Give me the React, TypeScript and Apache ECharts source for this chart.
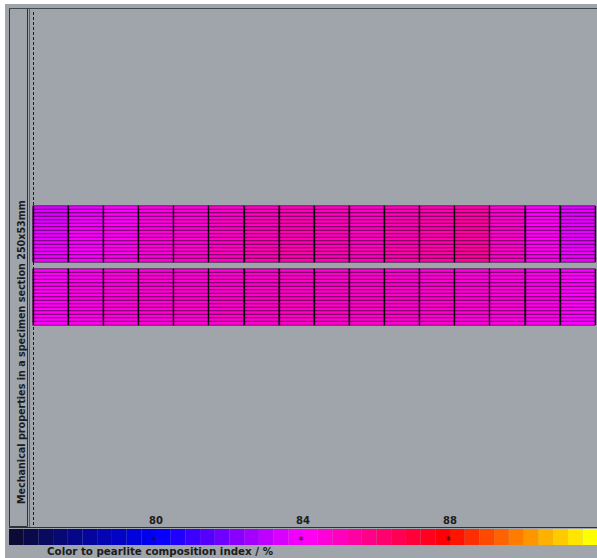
import React, { useEffect, useRef } from "react";
import * as echarts from "echarts";

const COLUMNS = ["1","2","3","4","5","6","7","8","9","10","11","12","13","14","15","16"];
const ROWS = ["r1","r2","r3","r4","r5","r6","r7","r8","r9","r10","r11","r12","r13","r14","r15","r16"];

// Upper band of the specimen section (rows top -> bottom, columns left -> right)
const TOP_BAND: number[][] = [
  [83.4,83.7,84.0,84.4,84.5,84.7,84.9,85.0,84.9,84.8,85.0,85.1,85.3,84.6,84.0,83.5],
  [83.5,83.8,84.0,84.3,84.6,84.8,85.0,85.1,85.0,84.9,85.1,85.2,85.4,84.7,84.1,83.6],
  [83.4,83.7,84.1,84.5,84.5,84.7,84.9,85.0,85.0,84.8,85.0,85.1,85.3,84.6,84.0,83.5],
  [83.6,83.9,84.1,84.4,84.6,84.8,85.0,85.1,84.9,84.9,85.1,85.2,85.4,84.7,84.1,83.7],
  [83.5,83.8,84.0,84.5,84.7,84.9,85.1,85.2,85.1,85.0,85.2,85.3,85.5,84.8,84.2,83.6],
  [83.6,83.9,84.2,84.4,84.6,84.8,85.0,85.1,85.0,84.9,85.1,85.2,85.4,84.7,84.1,83.6],
  [83.7,84.0,84.1,84.5,84.7,84.9,85.1,85.2,85.1,85.0,85.2,85.3,85.5,84.8,84.2,83.7],
  [83.6,83.9,84.2,84.6,84.6,84.8,85.0,85.1,85.0,84.9,85.1,85.2,85.4,84.7,84.1,83.6],
  [83.7,84.0,84.2,84.5,84.7,84.9,85.1,85.2,85.1,85.0,85.2,85.3,85.5,84.8,84.2,83.7],
  [83.6,83.9,84.1,84.6,84.6,84.8,85.0,85.1,85.0,84.9,85.1,85.2,85.4,84.7,84.1,83.6],
  [83.8,84.0,84.3,84.5,84.7,84.9,85.1,85.2,85.1,85.0,85.2,85.3,85.5,84.8,84.2,83.7],
  [83.7,83.9,84.2,84.6,84.6,84.8,85.0,85.1,85.0,84.9,85.1,85.2,85.4,84.7,84.1,83.6],
  [83.8,84.0,84.3,84.5,84.8,85.0,85.2,85.3,85.2,85.1,85.3,85.4,85.6,84.9,84.3,83.8],
  [83.7,83.9,84.2,84.6,84.7,84.9,85.1,85.2,85.1,85.0,85.2,85.3,85.5,84.8,84.2,83.7],
  [83.8,84.0,84.3,84.5,84.8,85.0,85.2,85.3,85.2,85.1,85.3,85.4,85.6,84.9,84.3,83.8],
  [83.7,83.9,84.2,84.6,84.7,84.9,85.1,85.2,85.1,85.0,85.2,85.3,85.5,84.8,84.2,83.7],
];

// Lower band of the specimen section
const BOTTOM_BAND: number[][] = [
  [84.0,84.2,84.4,84.5,84.6,84.6,84.7,84.7,84.7,84.7,84.6,84.6,84.5,84.4,84.2,83.9],
  [84.1,84.3,84.5,84.6,84.7,84.7,84.8,84.8,84.8,84.8,84.7,84.7,84.6,84.5,84.3,84.0],
  [84.0,84.2,84.4,84.6,84.6,84.7,84.7,84.8,84.7,84.7,84.7,84.6,84.5,84.4,84.2,84.0],
  [84.1,84.3,84.5,84.6,84.7,84.8,84.8,84.9,84.8,84.8,84.8,84.7,84.6,84.5,84.3,84.0],
  [84.2,84.4,84.5,84.7,84.7,84.8,84.9,84.9,84.9,84.9,84.8,84.8,84.7,84.6,84.3,84.1],
  [84.1,84.3,84.5,84.6,84.7,84.7,84.8,84.8,84.8,84.8,84.7,84.7,84.6,84.5,84.3,84.0],
  [84.2,84.4,84.6,84.7,84.8,84.8,84.9,84.9,84.9,84.9,84.8,84.8,84.7,84.6,84.4,84.1],
  [84.1,84.3,84.5,84.6,84.7,84.7,84.8,84.8,84.8,84.8,84.7,84.7,84.6,84.5,84.3,84.0],
  [84.2,84.4,84.6,84.7,84.8,84.8,84.9,85.0,84.9,84.9,84.8,84.8,84.7,84.6,84.4,84.1],
  [84.1,84.3,84.5,84.6,84.7,84.8,84.8,84.9,84.8,84.8,84.8,84.7,84.6,84.5,84.3,84.0],
  [84.2,84.4,84.6,84.7,84.8,84.8,84.9,85.0,84.9,84.9,84.8,84.8,84.7,84.6,84.4,84.1],
  [84.1,84.3,84.5,84.6,84.7,84.7,84.8,84.8,84.8,84.8,84.7,84.7,84.6,84.5,84.3,84.0],
  [84.2,84.4,84.6,84.7,84.8,84.9,84.9,85.0,85.0,84.9,84.9,84.8,84.7,84.6,84.4,84.1],
  [84.1,84.3,84.5,84.6,84.7,84.8,84.8,84.9,84.8,84.8,84.8,84.7,84.6,84.5,84.3,84.0],
  [84.0,84.2,84.4,84.5,84.6,84.7,84.7,84.8,84.7,84.7,84.7,84.6,84.5,84.4,84.2,83.9],
  [84.1,84.3,84.5,84.6,84.7,84.7,84.8,84.8,84.8,84.8,84.7,84.7,84.6,84.5,84.3,84.0],
];

const SCALE_MIN = 76;
const SCALE_MAX = 92;
const SCALE_STEP = 4;
const SCALE_PIECES = 40;
const SCALE_MARKS = [80, 84, 88];
const SCALE_COLORS = ["#0b0b36", "#0000ff", "#ff00ff", "#ff0000", "#ffff00"];

const TITLE_Y = "Mechanical properties in a specimen section 250x53mm";
const TITLE_SCALE = "Color to pearlite composition index / %";

function toCells(band: number[][]) {
  const out: [number, number, number][] = [];
  band.forEach((row, r) => row.forEach((v, c) => out.push([c, r, v])));
  return out;
}

export default function App() {
  const ref = useRef<HTMLDivElement>(null);
  useEffect(() => {
    if (!ref.current) return;
    const chart = echarts.init(ref.current, undefined, { renderer: "svg" });
    const font = '"DejaVu Sans", sans-serif';
    const lineCol = "#2e3236";
    const cellStyle = { borderColor: "#140014", borderWidth: 0.6 };
    const colAxis = (gridIndex: number) => ({
      type: "category", gridIndex, data: COLUMNS, z: 5,
      axisLine: { show: false }, axisTick: { show: false }, axisLabel: { show: false },
      splitLine: { show: true, interval: 0, lineStyle: { color: "#0a000a", width: 1.3 } },
    });
    chart.setOption({
      animation: false,
      backgroundColor: "#ffffff",
      graphic: [
        { type: "rect", z: -10, shape: { x: 5, y: 4, width: 592, height: 554 }, style: { fill: "#9fa5aa" } },
        { type: "rect", z: 1, shape: { x: 9.5, y: 8.5, width: 18, height: 518 }, style: { fill: "none", stroke: lineCol, lineWidth: 1 } },
        { type: "line", z: 1, shape: { x1: 29.5, y1: 8, x2: 29.5, y2: 527 }, style: { stroke: "#5d6266", lineWidth: 1 } },
        { type: "line", z: 1, shape: { x1: 9, y1: 8.5, x2: 597, y2: 8.5 }, style: { stroke: "#44494d", lineWidth: 1 } },
        { type: "line", z: 1, shape: { x1: 9, y1: 527.5, x2: 597, y2: 527.5 }, style: { stroke: lineCol, lineWidth: 1 } },
        { type: "line", z: 1, shape: { x1: 33.5, y1: 12, x2: 33.5, y2: 525 }, style: { stroke: "#1a1a1a", lineWidth: 1, lineDash: [3, 2] } },
        {
          type: "text", z: 5, x: 21, y: 504, rotation: Math.PI / 2,
          style: { text: TITLE_Y, font: `bold 9.6px ${font}`, fill: "#1c1c1c", align: "left", verticalAlign: "middle" },
        },
        {
          type: "text", z: 5, x: 47, y: 551,
          style: { text: TITLE_SCALE, font: `bold 10.3px ${font}`, fill: "#1c1c1c", align: "left", verticalAlign: "middle" },
        },
      ],
      grid: [
        { left: 33, right: 2, top: 206, height: 56 },
        { left: 33, right: 2, top: 269, height: 56 },
        { left: 9, right: 0, top: 529, height: 16 },
      ],
      xAxis: [
        colAxis(0),
        colAxis(1),
        {
          type: "value", gridIndex: 2, min: SCALE_MIN, max: SCALE_MAX, interval: SCALE_STEP, position: "top",
          axisLine: { show: false }, axisTick: { show: false }, splitLine: { show: false },
          axisLabel: { showMinLabel: false, showMaxLabel: false, margin: 4, color: "#1c1c1c", fontWeight: "bold", fontSize: 10, fontFamily: font },
        },
      ],
      yAxis: [
        { type: "category", gridIndex: 0, data: ROWS, show: false, inverse: true },
        { type: "category", gridIndex: 1, data: ROWS, show: false, inverse: true },
        { type: "category", gridIndex: 2, data: ["scale"], show: false },
      ],
      visualMap: [
        {
          type: "continuous", show: false, min: SCALE_MIN, max: SCALE_MAX, seriesIndex: [0, 1], dimension: 2,
          inRange: { color: SCALE_COLORS },
        },
        {
          type: "piecewise", min: SCALE_MIN, max: SCALE_MAX, splitNumber: SCALE_PIECES, orient: "horizontal",
          left: 9, top: 529, itemWidth: 588 / SCALE_PIECES, itemHeight: 16, itemGap: 0, padding: 0,
          showLabel: false, itemSymbol: "rect", seriesIndex: [2], dimension: 0, selectedMode: false, hoverLink: false,
          inRange: { color: SCALE_COLORS },
        },
      ],
      series: [
        {
          type: "heatmap", xAxisIndex: 0, yAxisIndex: 0, data: toCells(TOP_BAND),
          itemStyle: cellStyle, emphasis: { disabled: true },
        },
        {
          type: "heatmap", xAxisIndex: 1, yAxisIndex: 1, data: toCells(BOTTOM_BAND),
          itemStyle: cellStyle, emphasis: { disabled: true },
        },
        {
          type: "scatter", xAxisIndex: 2, yAxisIndex: 2, z: 10, symbolSize: 0,
          data: SCALE_MARKS.map((v) => [v, 0]),
          label: { show: true, position: "inside", formatter: "*", color: "#2a0a1a", fontSize: 10, fontFamily: font, fontWeight: "bold", offset: [-2, 3] },
          emphasis: { disabled: true },
        },
      ],
    });
    return () => chart.dispose();
  }, []);
  return <div ref={ref} style={{ position: "absolute", left: 0, top: 0, width: 597, height: 558 }} />;
}
